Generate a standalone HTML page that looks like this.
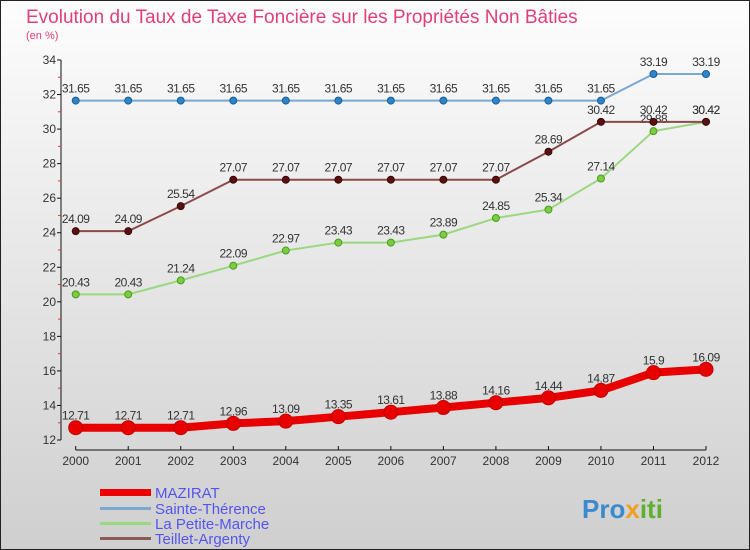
<!DOCTYPE html>
<html><head><meta charset="utf-8"><style>
body{margin:0}
#c{width:750px;height:550px;position:relative;background:linear-gradient(#fdfdfd,#cfcfcf);box-sizing:border-box;border:1px solid #222;font-family:"Liberation Sans",sans-serif;overflow:hidden}
text{font-family:"Liberation Sans",sans-serif}
</style></head><body>
<div id="c">
<svg id="s" width="750" height="550" style="position:absolute;left:-1px;top:-1px">
<text x="26" y="23" font-size="19" fill="#e0407a">Evolution du Taux de Taxe Foncière sur les Propriétés Non Bâties</text>
<text x="26" y="39" font-size="11" fill="#e0407a">(en %)</text>
<g id="ax"></g><g id="ser"></g>
<g>
<rect x="100" y="489" width="51" height="7" fill="#e00"/>
<text x="155" y="498" font-size="15" fill="#5555ee">MAZIRAT</text>
<rect x="100" y="507" width="51" height="3" fill="#7aa8d0"/>
<text x="155" y="514" font-size="15" fill="#5555ee">Sainte-Thérence</text>
<rect x="100" y="522" width="51" height="3" fill="#9ad880"/>
<text x="155" y="529" font-size="15" fill="#5555ee">La Petite-Marche</text>
<rect x="100" y="537" width="51" height="3" fill="#8a5a5a"/>
<text x="155" y="544" font-size="15" fill="#5555ee">Teillet-Argenty</text>
</g>
<text x="582" y="518" font-size="26" font-weight="bold" fill="#3a8ad0">Pro<tspan fill="#f0a020">x</tspan><tspan fill="#60b030">iti</tspan></text>
</svg>
</div>
<script>
const years=[2000,2001,2002,2003,2004,2005,2006,2007,2008,2009,2010,2011,2012];
const yTicks=[12,14,16,18,20,22,24,26,28,30,32,34];
const mazirat=[12.71,12.71,12.71,12.96,13.09,13.35,13.61,13.88,14.16,14.44,14.87,15.9,16.09];
const sainte=[31.65,31.65,31.65,31.65,31.65,31.65,31.65,31.65,31.65,31.65,31.65,33.19,33.19];
const petite=[20.43,20.43,21.24,22.09,22.97,23.43,23.43,23.89,24.85,25.34,27.14,29.88,30.42];
const teillet=[24.09,24.09,25.54,27.07,27.07,27.07,27.07,27.07,27.07,28.69,30.42,30.42,30.42];
const NS="http://www.w3.org/2000/svg";
const X=i=>75.7+i*(706-75.7)/(years.length-1);
const Y=v=>440-(v-12)*(380/22);
function el(t,a,p){const e=document.createElementNS(NS,t);for(const k in a)e.setAttribute(k,a[k]);p.appendChild(e);return e;}
const ax=document.getElementById('ax'),ser=document.getElementById('ser');
let l=el('line',{x1:61,y1:60,x2:61,y2:440,stroke:'#111'},ax);


l=el('line',{x1:75.7,y1:450,x2:706,y2:450,stroke:'#111'},ax);


yTicks.forEach((v,i)=>{
 el('line',{x1:57,x2:61,y1:Y(v),y2:Y(v),stroke:'#111'},ax);
 if(i<yTicks.length-1)el('line',{x1:58,x2:61,y1:Y(v+1),y2:Y(v+1),stroke:'#e33'},ax);
 const t=el('text',{x:56,y:Y(v)+4,'font-size':12,'text-anchor':'end',fill:'#333'},ax);t.textContent=v;
 
 
});
years.forEach((y,i)=>{
 el('line',{x1:X(i),x2:X(i),y1:446,y2:450,stroke:'#111'},ax);
 const t=el('text',{x:X(i),y:465,'font-size':12,'text-anchor':'middle',fill:'#333'},ax);t.textContent=y;
 
 
});
function series(d,name,color,w,r,dot,stroke){
 const g=el('g',{},ser);
 
 
 const p=el('polyline',{points:d.map((v,i)=>X(i)+','+Y(v)).join(' '),fill:'none',stroke:color,'stroke-width':w},g);
 
 
 d.forEach((v,i)=>{
  const c=el('circle',{cx:X(i),cy:Y(v),r:r,fill:dot,stroke:stroke,'stroke-width':1},g);
  
  
  const t=el('text',{x:X(i),y:Y(v)-8,'font-size':12,'text-anchor':'middle',fill:'#333','letter-spacing':'-0.5'},g);
  t.textContent=String(v);
  
  
 });
}
series(sainte,'sainte-therence','#7aa8d0',2,3.5,'#2e84c8','#1a5e96');
series(petite,'la-petite-marche','#9ad880',2,3.5,'#7ccc40','#4a9a20');
series(teillet,'teillet-argenty','#8a4a4a',2,3.5,'#5a1010','#3a0808');
series(mazirat,'mazirat','#e80000',8,7,'#e80000','#c00000');
</script>
</body></html>
